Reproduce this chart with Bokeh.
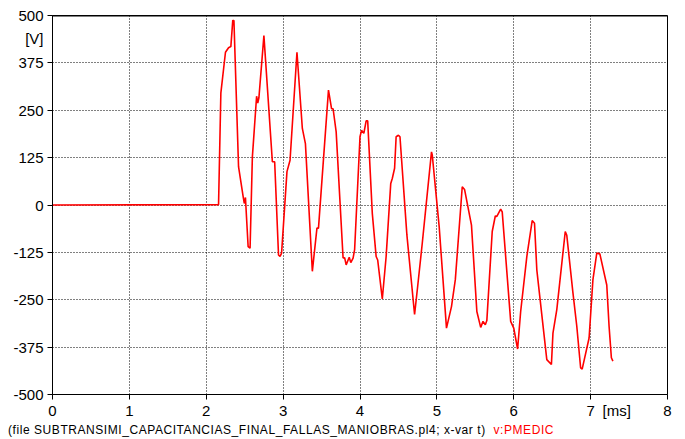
from bokeh.plotting import figure
from bokeh.models import FixedTicker, Span, Range1d, Div
from bokeh.layouts import column
from bokeh.embed import file_html
from bokeh.resources import INLINE

# Data (t in ms, v in V)
t_ms = [0, 2.16, 2.19, 2.25, 2.29, 2.32, 2.345, 2.36, 2.42, 2.48, 2.495, 2.51, 2.515,
        2.545, 2.57, 2.60, 2.655, 2.67, 2.685, 2.75, 2.86, 2.89, 2.94, 2.96, 2.98,
        3.05, 3.09, 3.18, 3.25, 3.29, 3.38, 3.44, 3.46, 3.59, 3.63, 3.65, 3.69,
        3.78, 3.80, 3.82, 3.86, 3.88, 3.91, 3.93, 4.00, 4.02, 4.05, 4.08, 4.10,
        4.16, 4.21, 4.23, 4.29, 4.34, 4.40, 4.42, 4.45, 4.47, 4.50, 4.52, 4.61,
        4.71, 4.75, 4.81, 4.93, 4.94, 5.03, 5.125, 5.19, 5.24, 5.33, 5.36, 5.45,
        5.52, 5.57, 5.60, 5.63, 5.65, 5.72, 5.76, 5.78, 5.83, 5.85, 5.96, 6.00,
        6.05, 6.09, 6.17, 6.24, 6.27, 6.30, 6.43, 6.49, 6.51, 6.56, 6.67, 6.69,
        6.77, 6.82, 6.87, 6.89, 6.98, 7.03, 7.08, 7.12, 7.21, 7.24, 7.27, 7.29]
v_pmedic = [0, 1, 295, 403, 415, 418, 487, 487, 101, 22, 4, 20, 0,
            -110, -114, 127, 287, 269, 283, 447, 114, 114, -132, -136, -127,
            88, 118, 403, 202, 162, -175, -61, -61, 303, 254, 254, 193,
            -140, -139, -158, -138, -152, -140, -118, 180, 197, 189, 222, 222,
            -22, -136, -145, -248, -136, 57, 70, 97, 180, 184, 180, -79,
            -289, -215, -101, 140, 132, -57, -325, -268, -197, 48, 41, -53,
            -281, -323, -307, -316, -305, -70, -29, -30, -11, -18, -307, -325,
            -380, -281, -136, -41, -48, -171, -408, -421, -338, -276, -70, -80,
            -232, -320, -430, -433, -351, -197, -127, -129, -211, -320, -403, -412]

x_ticks = [0, 1, 2, 3, 4, 5, 6, 7, 8]
y_ticks = [-500, -375, -250, -125, 0, 125, 250, 375, 500]
x_unit, x_unit_pos = "[ms]", 7.34
y_unit, y_unit_pos = "[V]", 440
caption = "(file SUBTRANSIMI_CAPACITANCIAS_FINAL_FALLAS_MANIOBRAS.pl4; x-var t)"
series_name = "v:PMEDIC"

FONT = "Liberation Sans"

p = figure(width=685, height=421, output_backend="svg", toolbar_location=None,
           x_range=Range1d(0, 8), y_range=Range1d(-500, 500),
           min_border_left=52, min_border_right=18, min_border_top=15, min_border_bottom=26)
p.background_fill_color = "white"
p.border_fill_color = "white"
p.outline_line_color = "black"
p.outline_line_width = 1
p.outline_line_alpha = 1

for ax, ticks, unit, upos in ((p.xaxis, x_ticks, x_unit, x_unit_pos),
                              (p.yaxis, y_ticks, y_unit, y_unit_pos)):
    ov = {t: str(t) for t in ticks}
    ov[upos] = unit
    # labels (incl. unit) on major ticks; visible tick marks drawn as "minor" ticks
    ax.ticker = FixedTicker(ticks=ticks + [upos], minor_ticks=ticks)
    ax.major_label_overrides = ov
    ax.major_label_text_font = FONT
    ax.major_label_text_font_size = "15px"
    ax.major_label_text_color = "black"
    ax.axis_line_color = "black"
    ax.major_tick_line_color = None
    ax.major_tick_in = 0
    ax.major_tick_out = 5
    ax.minor_tick_line_color = "black"
    ax.minor_tick_in = 0
    ax.minor_tick_out = 5
p.xaxis.major_label_standoff = 2
p.yaxis.major_label_standoff = 4

p.xgrid.ticker = FixedTicker(ticks=x_ticks)
p.ygrid.ticker = FixedTicker(ticks=y_ticks)
for g in (p.xgrid, p.ygrid):
    g.grid_line_color = "black"
    g.grid_line_dash = "1 2"
    g.grid_line_width = 1
    g.grid_line_alpha = 1

p.add_layout(Span(location=500, dimension="width", line_color="black", line_width=2))

p.line(t_ms, v_pmedic, line_color="#ff0000", line_width=1.6)

div = Div(text=f'{caption}&nbsp;&nbsp;<span style="color:#ff0000">{series_name}</span>',
          width=685, height=18,
          styles={"font-family": FONT, "font-size": "12px", "line-height": "18px",
                  "letter-spacing": "0.56px", "padding-left": "8px", "margin": "0",
                  "color": "black", "white-space": "nowrap"})

layout = column(p, div, spacing=0)
open("out.html", "w").write(file_html(layout, INLINE))
